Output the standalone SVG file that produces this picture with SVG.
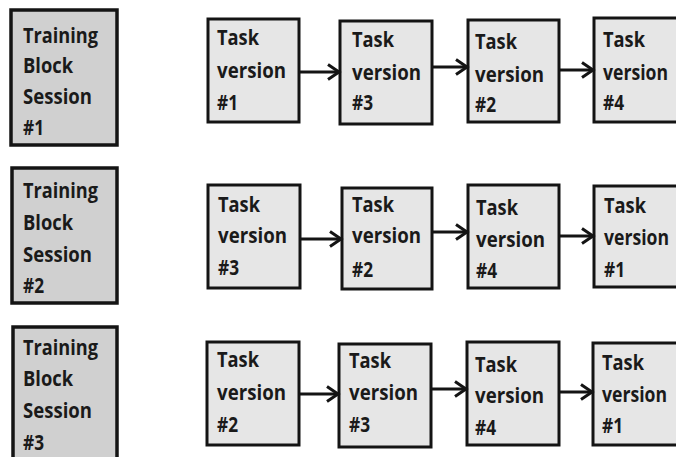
<svg xmlns="http://www.w3.org/2000/svg" width="676" height="457" viewBox="0 0 676 457">
<style>
.tb{fill:#d0d0d0;stroke:#141414;stroke-width:3.5}
.bx{fill:#e6e6e6;stroke:#141414;stroke-width:3}
text{font-family:"Open Sans","Liberation Sans",Arial,sans-serif;font-weight:700;font-size:21px;fill:#1a1a1a}
.ar{stroke:#141414;stroke-width:3;fill:none;marker-end:url(#ah)}
</style>
<defs>
<marker id="ah" markerUnits="userSpaceOnUse" markerWidth="16" markerHeight="20" refX="13" refY="9" orient="auto">
<path d="M2,1.5 L13,9 L2,16.5" fill="none" stroke="#141414" stroke-width="3"/>
</marker>
</defs>
<rect width="676" height="457" fill="#ffffff"/>
<g id="tb1"><rect class="tb" x="11" y="10" width="106" height="135"/>
<text x="23" y="43" textLength="75" lengthAdjust="spacingAndGlyphs">Training</text><text x="23" y="73" textLength="50" lengthAdjust="spacingAndGlyphs">Block</text><text x="23" y="104" textLength="69" lengthAdjust="spacingAndGlyphs">Session</text><text x="23" y="135" textLength="21" lengthAdjust="spacingAndGlyphs">#1</text></g>
<g id="tb2"><rect class="tb" x="12" y="168" width="105" height="135"/>
<text x="23" y="198" textLength="75" lengthAdjust="spacingAndGlyphs">Training</text><text x="23" y="230" textLength="50" lengthAdjust="spacingAndGlyphs">Block</text><text x="23" y="262" textLength="69" lengthAdjust="spacingAndGlyphs">Session</text><text x="23" y="293" textLength="21" lengthAdjust="spacingAndGlyphs">#2</text></g>
<g id="tb3"><rect class="tb" x="13" y="327" width="104" height="140"/>
<text x="23" y="355" textLength="75" lengthAdjust="spacingAndGlyphs">Training</text><text x="23" y="386" textLength="50" lengthAdjust="spacingAndGlyphs">Block</text><text x="23" y="418" textLength="69" lengthAdjust="spacingAndGlyphs">Session</text><text x="23" y="450" textLength="21" lengthAdjust="spacingAndGlyphs">#3</text></g>

<g id="r1b1"><rect class="bx" x="208" y="19" width="91" height="103"/><text x="217" y="45" textLength="42" lengthAdjust="spacingAndGlyphs">Task</text><text x="217" y="78" textLength="69" lengthAdjust="spacingAndGlyphs">version</text><text x="217" y="110" textLength="21" lengthAdjust="spacingAndGlyphs">#1</text></g>
<g id="r1b2"><rect class="bx" x="340" y="21" width="92" height="103"/><text x="352" y="47" textLength="42" lengthAdjust="spacingAndGlyphs">Task</text><text x="352" y="80" textLength="69" lengthAdjust="spacingAndGlyphs">version</text><text x="352" y="110" textLength="21" lengthAdjust="spacingAndGlyphs">#3</text></g>
<g id="r1b3"><rect class="bx" x="468" y="20" width="91" height="102"/><text x="475" y="49" textLength="42" lengthAdjust="spacingAndGlyphs">Task</text><text x="475" y="82" textLength="69" lengthAdjust="spacingAndGlyphs">version</text><text x="475" y="112" textLength="21" lengthAdjust="spacingAndGlyphs">#2</text></g>
<g id="r1b4"><rect class="bx" x="594" y="18" width="92" height="104"/><text x="603" y="47" textLength="42" lengthAdjust="spacingAndGlyphs">Task</text><text x="603" y="80" textLength="65" lengthAdjust="spacingAndGlyphs">version</text><text x="603" y="110" textLength="21" lengthAdjust="spacingAndGlyphs">#4</text></g>

<g id="r2b1"><rect class="bx" x="208" y="185" width="92" height="103"/><text x="218" y="212" textLength="42" lengthAdjust="spacingAndGlyphs">Task</text><text x="218" y="243" textLength="69" lengthAdjust="spacingAndGlyphs">version</text><text x="218" y="275" textLength="21" lengthAdjust="spacingAndGlyphs">#3</text></g>
<g id="r2b2"><rect class="bx" x="342" y="188" width="90" height="101"/><text x="352" y="212" textLength="42" lengthAdjust="spacingAndGlyphs">Task</text><text x="352" y="243" textLength="69" lengthAdjust="spacingAndGlyphs">version</text><text x="352" y="277" textLength="21" lengthAdjust="spacingAndGlyphs">#2</text></g>
<g id="r2b3"><rect class="bx" x="468" y="185" width="91" height="103"/><text x="476" y="215" textLength="42" lengthAdjust="spacingAndGlyphs">Task</text><text x="476" y="247" textLength="69" lengthAdjust="spacingAndGlyphs">version</text><text x="476" y="278" textLength="21" lengthAdjust="spacingAndGlyphs">#4</text></g>
<g id="r2b4"><rect class="bx" x="594" y="186" width="92" height="101"/><text x="604" y="213" textLength="42" lengthAdjust="spacingAndGlyphs">Task</text><text x="604" y="245" textLength="65" lengthAdjust="spacingAndGlyphs">version</text><text x="604" y="277" textLength="21" lengthAdjust="spacingAndGlyphs">#1</text></g>

<g id="r3b1"><rect class="bx" x="207" y="342" width="92" height="103"/><text x="217" y="367" textLength="42" lengthAdjust="spacingAndGlyphs">Task</text><text x="217" y="400" textLength="69" lengthAdjust="spacingAndGlyphs">version</text><text x="217" y="432" textLength="21" lengthAdjust="spacingAndGlyphs">#2</text></g>
<g id="r3b2"><rect class="bx" x="339" y="344" width="92" height="103"/><text x="349" y="368" textLength="42" lengthAdjust="spacingAndGlyphs">Task</text><text x="349" y="400" textLength="69" lengthAdjust="spacingAndGlyphs">version</text><text x="349" y="432" textLength="21" lengthAdjust="spacingAndGlyphs">#3</text></g>
<g id="r3b3"><rect class="bx" x="467" y="342" width="92" height="103"/><text x="475" y="372" textLength="42" lengthAdjust="spacingAndGlyphs">Task</text><text x="475" y="403" textLength="69" lengthAdjust="spacingAndGlyphs">version</text><text x="475" y="435" textLength="21" lengthAdjust="spacingAndGlyphs">#4</text></g>
<g id="r3b4"><rect class="bx" x="593" y="343" width="93" height="102"/><text x="602" y="370" textLength="42" lengthAdjust="spacingAndGlyphs">Task</text><text x="602" y="402" textLength="65" lengthAdjust="spacingAndGlyphs">version</text><text x="602" y="433" textLength="21" lengthAdjust="spacingAndGlyphs">#1</text></g>

<g id="connectors">
<line class="ar" x1="300" y1="72" x2="339" y2="72"/>
<line class="ar" x1="433" y1="67" x2="467" y2="67"/>
<line class="ar" x1="560" y1="70" x2="593" y2="70"/>
<line class="ar" x1="301" y1="239" x2="341" y2="239"/>
<line class="ar" x1="433" y1="232" x2="467" y2="232"/>
<line class="ar" x1="560" y1="236" x2="593" y2="236"/>
<line class="ar" x1="300" y1="394" x2="338" y2="394"/>
<line class="ar" x1="432" y1="389" x2="466" y2="389"/>
<line class="ar" x1="560" y1="392" x2="592" y2="392"/>
</g>
</svg>
